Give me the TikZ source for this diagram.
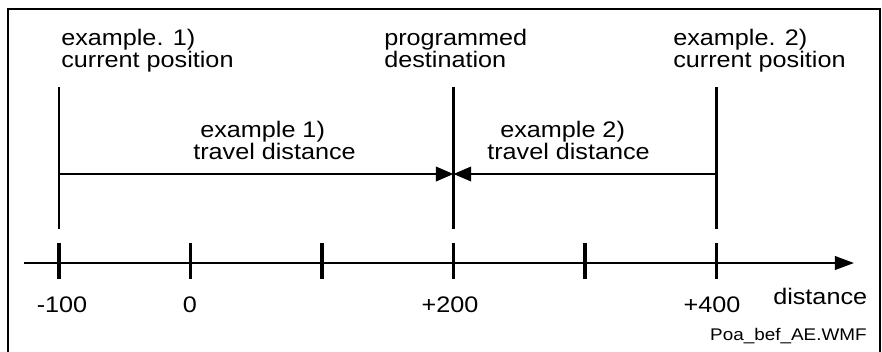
\documentclass[tikz,border=0pt]{standalone}
\usepackage{fontspec}
\setmainfont[FakeStretch=1.12]{Liberation Sans}
\usetikzlibrary{arrows.meta}

\tikzset{
  lbl/.style={inner sep=0pt, font=\fontsize{16}{13.6}\selectfont, align=left},
  small/.style={inner sep=0pt, font=\fontsize{12}{13}\selectfont},
  axis/.style={line width=1.7pt},
  tick/.style={line width=2.4pt},
  marker/.style={line width=1.7pt},
}

\begin{document}
\begin{tikzpicture}[x=0.025cm, y=-0.025cm, >={Triangle[length=0.44cm,width=0.36cm]}]
  \useasboundingbox (0,0) rectangle (882,351);

  % Frame
  \draw[line width=1.7pt] (8,352) |- (880,9) -- (880,352);

  % Axis with ticks
  \coordinate (start) at (24,263);
  \coordinate (end) at (854,263);
  \draw[axis, -{Triangle[length=0.48cm,width=0.34cm]}] (start) -- (end);
  \foreach \i/\x in {0/59,1/190.5,2/322,3/453.5,4/585,5/716.5}
    \draw[tick] (\x,243) -- (\x,279);
  \node[lbl, anchor=base] (m100) at (62,312) {-100};
  \node[lbl, anchor=base] (zero) at (190,312) {0};
  \node[lbl, anchor=base] (p200) at (450,312) {+200};
  \node[lbl, anchor=base] (p400) at (712,312) {+400};
  \node[lbl, anchor=base west] (dist) at (773,304) {distance};

  % Positions
  \coordinate (a1) at (59,87);    \coordinate (a2) at (59,229);
  \coordinate (b1) at (453.5,87); \coordinate (b2) at (453.5,229);
  \coordinate (c1) at (716.5,87); \coordinate (c2) at (716.5,229);
  \draw[marker] (a1) -- (a2);
  \draw[marker] (b1) -- (b2);
  \draw[marker] (c1) -- (c2);
  \node[lbl, anchor=north west] (cur1) at (61,29) {example. 1)\\current position};
  \node[lbl, anchor=north west] (dest) at (384,29) {programmed\\destination};
  \node[lbl, anchor=north west] (cur2) at (673,29) {example. 2)\\current position};

  % Travel distances
  \coordinate (d1) at (59,174);
  \coordinate (d2) at (453.5,174);
  \coordinate (d3) at (716.5,174);
  \draw[marker, ->] (d1) -- (d2);
  \draw[marker, ->] (d3) -- (d2);
  \node[lbl, anchor=north west] (trav1) at (193,121) {\hspace*{0.175cm}example 1)\\travel distance};
  \node[lbl, anchor=north west] (trav2) at (487,121) {\hspace*{0.325cm}example 2)\\travel distance};

  \node[small, anchor=base east] (file) at (867,340) {Poa\_bef\_AE.WMF};
\end{tikzpicture}
\end{document}
